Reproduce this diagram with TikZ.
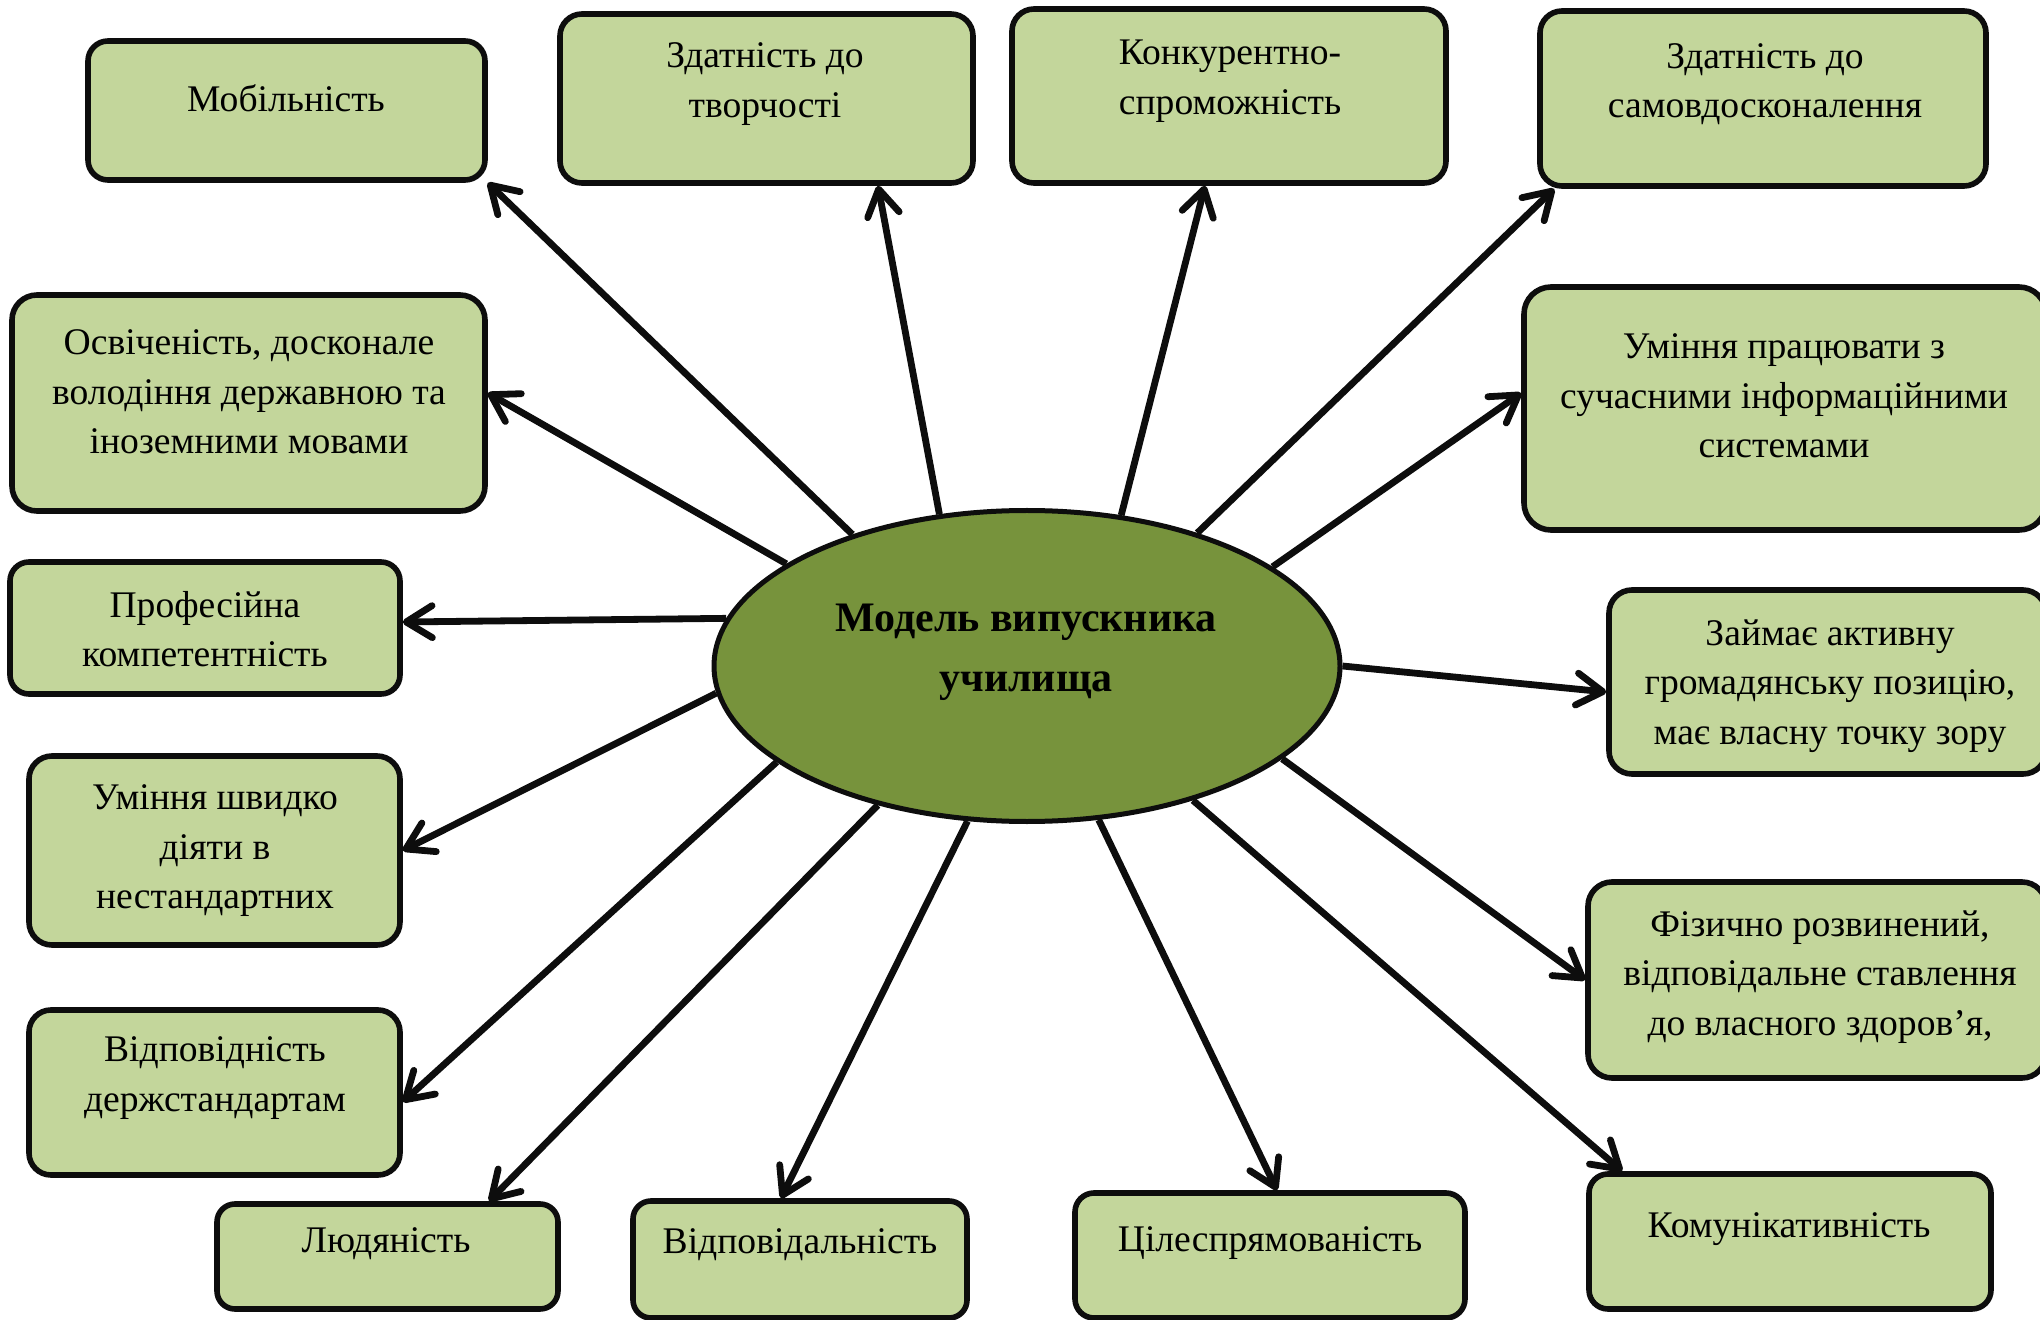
\documentclass[tikz,border=0pt]{standalone}
\usepackage{fontspec}
\setmainfont{Liberation Serif}
\usetikzlibrary{arrows.meta,calc,shapes.geometric}
\definecolor{boxgreen}{HTML}{C3D69B}
\definecolor{ellgreen}{HTML}{77933C}
\definecolor{inkline}{HTML}{0D0D0D}
\begin{document}
\begin{tikzpicture}[x=0.5pt,y=-0.5pt,
  box/.style={draw=inkline,line width=2.8pt,fill=boxgreen,inner sep=0pt,rounded corners=#1},
  box/.default=10pt,
  txt/.style={align=center,inner sep=0pt,font=\fontsize{18.8}{24.75}\selectfont},
  ctxt/.style={align=center,inner sep=0pt,font=\fontsize{21}{30}\selectfont\bfseries},
  ell/.style={ellipse,draw=inkline,line width=2.5pt,fill=ellgreen,inner sep=0pt},
  arr/.style={draw=inkline,line width=3.4pt,-{Straight Barb[length=13pt,width=16pt,round]}}]
\useasboundingbox (0,0) rectangle (2040,1320);
\fill[white] (0,0) rectangle (2040,1320);

% boxes
\node[box=10pt,  minimum width=198.5pt, minimum height=69.5pt] (b1)  at (286.5,110.5) {};
\node[box=11pt,  minimum width=206.5pt, minimum height=84.5pt] (b2)  at (766.5,98.5) {};
\node[box=11pt,  minimum width=217pt,   minimum height=87pt]   (b3)  at (1229,96) {};
\node[box=11pt,  minimum width=223pt,   minimum height=87.5pt] (b4)  at (1763,98.5) {};
\node[box=12.5pt,minimum width=236.5pt, minimum height=108pt]  (b5)  at (248.5,403) {};
\node[box=13.5pt,minimum width=261pt,   minimum height=121.5pt](b6)  at (1785,408.5) {};
\node[box=9.5pt, minimum width=195pt,   minimum height=66pt]   (b7)  at (205,628) {};
\node[box=11.5pt,minimum width=218.5pt, minimum height=92pt]   (b8)  at (1827.5,682) {};
\node[box=11.5pt,minimum width=185.5pt, minimum height=94.5pt] (b9)  at (214.5,850.5) {};
\node[box=12pt,  minimum width=229pt,   minimum height=98pt]   (b10) at (1817,980) {};
\node[box=11pt,  minimum width=185.5pt, minimum height=82.5pt] (b11) at (214.5,1092.5) {};
\node[box=9pt,   minimum width=170.5pt, minimum height=52.5pt] (b12) at (387.5,1256.5) {};
\node[box=9pt,   minimum width=167pt,   minimum height=58.5pt] (b13) at (800,1259.5) {};
\node[box=9.5pt, minimum width=195pt,   minimum height=62.5pt] (b14) at (1270,1255.5) {};
\node[box=9.5pt, minimum width=201pt,   minimum height=67.5pt] (b15) at (1790,1241.5) {};

% texts
\node[txt] (t1)  at (286,98) {Мобільність};
\node[txt] (t2)  at (765,84) {Здатність до\\творчості};
\node[txt] (t3)  at (1230,81) {Конкурентно-\\спроможність};
\node[txt] (t4)  at (1765,84) {Здатність до\\самовдосконалення};
\node[txt] (t5)  at (249,392) {Освіченість, досконале\\володіння державною та\\іноземними мовами};
\node[txt] (t6)  at (1784,396) {Уміння працювати з\\сучасними інформаційними\\системами};
\node[txt] (t7)  at (205,629) {Професійна\\компетентність};
\node[txt] (t8)  at (1830,686) {Займає активну\\громадянську позицію,\\має власну точку зору};
\node[txt] (t9)  at (215,851) {Уміння швидко\\діяти в\\нестандартних};
\node[txt] (t10) at (1820,977) {Фізично розвинений,\\відповідальне ставлення\\до власного здоров’я,};
\node[txt] (t11) at (215,1078) {Відповідність\\держстандартам};
\node[txt] (t12) at (386,1244) {Людяність};
\node[txt] (t13) at (800,1245) {Відповідальність};
\node[txt] (t14) at (1270,1243) {Цілеспрямованість};
\node[txt] (t15) at (1789,1229) {Комунікативність};

% centre
\node[ell,minimum width=313pt,minimum height=155.5pt] (m) at (1027,666) {};
\node[ctxt] (mt) at (1026,652) {Модель випускника\\училища};

% arrows
\draw[arr] (m.143)    -- (b1.south east);
\draw[arr] (m.120.6)  -- ($(b2.south)+(111.5,0)$);
\draw[arr] (m.58.3)   -- ($(b3.south)+(-24,0)$);
\draw[arr] (m.38.7)   -- ($(b4.south west)+(17,0)$);
\draw[arr] (m.157.5)  -- ($(b5.east)+(0,-10)$);
\draw[arr] (m.22.5)   -- ($(b6.west)+(0,-15.5)$);
\draw[arr] (m.171.6)  -- ($(b7.east)+(0,-6)$);
\draw[arr] (m.0)      -- ($(b8.west)+(0,10)$);
\draw[arr] (m.-175.1) -- (b9.east);
\draw[arr] (m.-20.6)  -- (b10.west);
\draw[arr] (m.-159.9) -- ($(b11.east)+(0,9.5)$);
\draw[arr] (m.-137)   -- ($(b12.north)+(101.5,0)$);
\draw[arr] (m.-111.4) -- ($(b13.north)+(-19,0)$);
\draw[arr] (m.-65.8)  -- ($(b14.north)+(7,0)$);
\draw[arr] (m.-39.3)  -- ($(b15.north west)+(36,0)$);
\end{tikzpicture}
\end{document}
